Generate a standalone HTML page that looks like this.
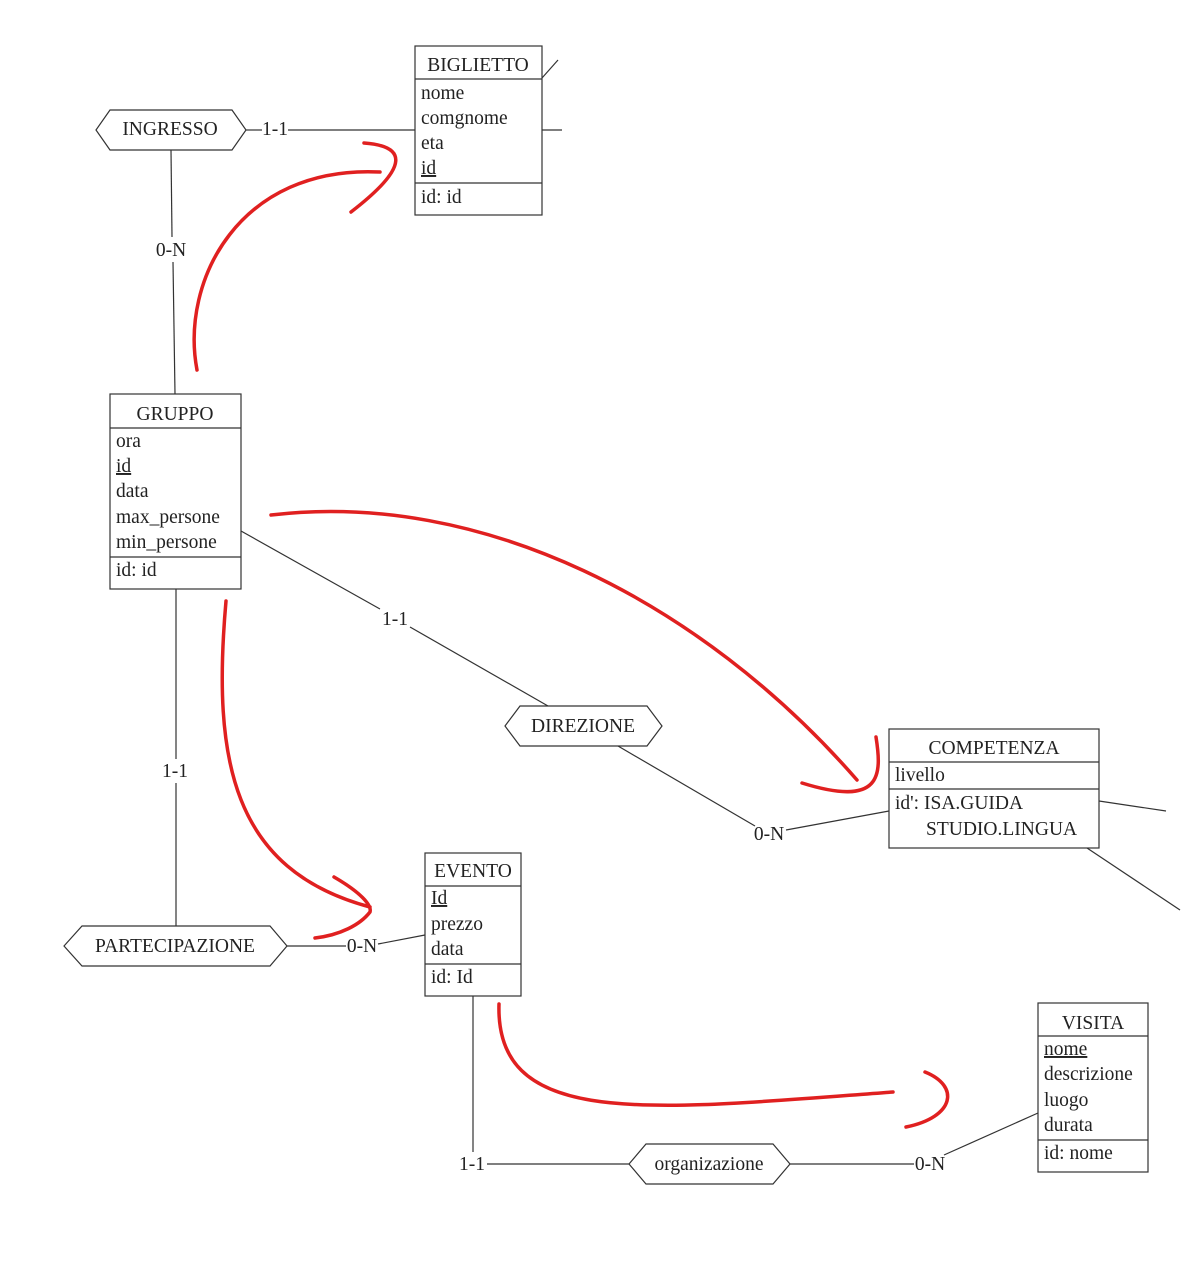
<!DOCTYPE html>
<html><head><meta charset="utf-8"><style>html,body{margin:0;padding:0;background:#fff}svg{display:block}svg text{font-family:"Liberation Serif",serif;font-size:19.5px}</style></head><body>
<svg width="1193" height="1266" viewBox="0 0 1193 1266" xmlns="http://www.w3.org/2000/svg" fill="#222">
<g stroke="#333" stroke-width="1.2" fill="none">
<rect x="415" y="46" width="127" height="169"/><line x1="415" y1="79" x2="542" y2="79"/><line x1="415" y1="183" x2="542" y2="183"/>
<line x1="542" y1="78" x2="558" y2="60"/><line x1="542" y1="130" x2="562" y2="130"/>
<polygon points="96,130 110,110 232,110 246,130 232,150 110,150"/>
<line x1="246" y1="130" x2="262" y2="130"/><line x1="288" y1="130" x2="415" y2="130"/>
<line x1="171" y1="150" x2="172" y2="237"/><line x1="173" y1="262" x2="175" y2="394"/>
<rect x="110" y="394" width="131" height="195"/><line x1="110" y1="428" x2="241" y2="428"/><line x1="110" y1="557" x2="241" y2="557"/>
<line x1="241" y1="531" x2="380" y2="609"/><line x1="410" y1="627" x2="548" y2="706"/>
<polygon points="505,726 520,706 647,706 662,726 647,746 520,746"/>
<line x1="618" y1="746" x2="755" y2="826"/><line x1="786" y1="830" x2="889" y2="811"/>
<rect x="889" y="729" width="210" height="119"/><line x1="889" y1="762" x2="1099" y2="762"/><line x1="889" y1="789" x2="1099" y2="789"/>
<line x1="1099" y1="801" x2="1166" y2="811"/><line x1="1087" y1="848" x2="1180" y2="910"/>
<line x1="176" y1="589" x2="176" y2="759"/><line x1="176" y1="783" x2="176" y2="926"/>
<polygon points="64,946 82,926 270,926 287,946 270,966 82,966"/>
<line x1="287" y1="946" x2="346" y2="946"/><line x1="378" y1="944" x2="425" y2="935"/>
<rect x="425" y="853" width="96" height="143"/><line x1="425" y1="886" x2="521" y2="886"/><line x1="425" y1="964" x2="521" y2="964"/>
<line x1="473" y1="996" x2="473" y2="1152"/><line x1="487" y1="1164" x2="629" y2="1164"/>
<polygon points="629,1164 646,1144 773,1144 790,1164 773,1184 646,1184"/>
<line x1="790" y1="1164" x2="914" y2="1164"/><line x1="944" y1="1155" x2="1038" y2="1113"/>
<rect x="1038" y="1003" width="110" height="169"/><line x1="1038" y1="1036" x2="1148" y2="1036"/><line x1="1038" y1="1140" x2="1148" y2="1140"/>
</g>
<g text-anchor="middle">
<text x="478" y="71">BIGLIETTO</text><text x="170" y="135">INGRESSO</text><text x="275" y="135">1-1</text><text x="171" y="256">0-N</text>
<text x="175" y="420">GRUPPO</text><text x="395" y="625">1-1</text><text x="583" y="732">DIREZIONE</text><text x="769" y="840">0-N</text>
<text x="994" y="754">COMPETENZA</text><text x="175" y="777">1-1</text><text x="175" y="952">PARTECIPAZIONE</text><text x="362" y="952">0-N</text>
<text x="473" y="877">EVENTO</text><text x="472" y="1170">1-1</text><text x="709" y="1170">organizazione</text><text x="930" y="1170">0-N</text>
<text x="1093" y="1029">VISITA</text>
</g>
<g>
<text x="421" y="99">nome</text><text x="421" y="124">comgnome</text><text x="421" y="149">eta</text><text x="421" y="174" text-decoration="underline">id</text><text x="421" y="203">id: id</text>
<text x="116" y="447">ora</text><text x="116" y="472" text-decoration="underline">id</text><text x="116" y="497">data</text><text x="116" y="523">max_persone</text><text x="116" y="548">min_persone</text><text x="116" y="576">id: id</text>
<text x="895" y="781">livello</text><text x="895" y="809">id': ISA.GUIDA</text><text x="926" y="835">STUDIO.LINGUA</text>
<text x="431" y="904" text-decoration="underline">Id</text><text x="431" y="930">prezzo</text><text x="431" y="955">data</text><text x="431" y="983">id: Id</text>
<text x="1044" y="1055" text-decoration="underline">nome</text><text x="1044" y="1080">descrizione</text><text x="1044" y="1106">luogo</text><text x="1044" y="1131">durata</text><text x="1044" y="1159">id: nome</text>
</g>
<g stroke="#e02020" stroke-width="3.5" fill="none" stroke-linecap="round">
<path d="M197,370 C180,280 240,165 380,172"/>
<path d="M364,143 C405,146 412,165 351,212"/>
<path d="M271,515 C480,490 700,600 857,780"/>
<path d="M876,737 C882,775 882,808 802,783"/>
<path d="M226,601 C212,760 232,870 370,907"/>
<path d="M334,877 C360,892 372,905 370,912 C360,925 340,935 315,938"/>
<path d="M499,1004 C495,1130 650,1110 893,1092"/>
<path d="M925,1072 C960,1086 955,1117 906,1127"/>
</g>
</svg>
</body></html>
